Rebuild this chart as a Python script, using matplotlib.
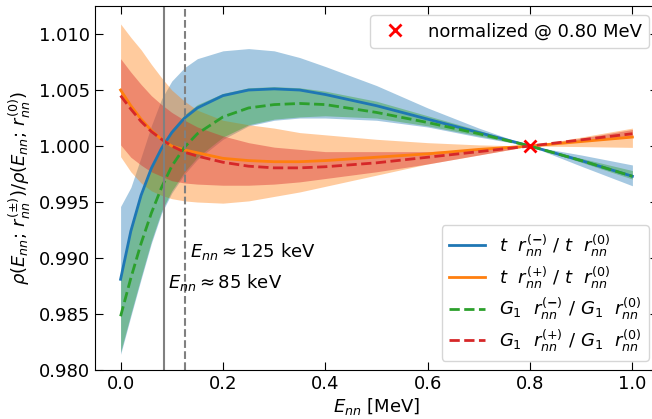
import matplotlib
matplotlib.use("Agg")
import matplotlib.pyplot as plt

# energies (MeV)
E = [0, 0.02, 0.04, 0.06, 0.08, 0.1, 0.125, 0.15, 0.2, 0.25, 0.3, 0.35, 0.4, 0.5, 0.6, 0.7, 0.8, 0.9, 1.0]

# t-matrix, r(-) / r(0)
t_minus = [0.9881, 0.9924, 0.9956, 0.9980, 0.9998, 1.0012, 1.0025, 1.0034, 1.0045, 1.0050, 1.0051, 1.0050,
           1.0046, 1.0036, 1.0024, 1.0012, 1.0000, 0.9987, 0.9973]
t_minus_a = [0.9946, 0.9963, 0.9990, 1.0018, 1.0042, 1.0058, 1.0070, 1.0078, 1.0085, 1.0087, 1.0085, 1.0079,
             1.0071, 1.0054, 1.0034, 1.0016, 1.0000, 0.9982, 0.99645]
t_minus_b = [0.9814, 0.9848, 0.9881, 0.9913, 0.9940, 0.9958, 0.9975, 0.9988, 1.0006, 1.0018, 1.0023, 1.0025,
             1.0025, 1.0023, 1.0017, 1.0008, 1.0000, 0.9992, 0.99831]

# t-matrix, r(+) / r(0)
t_plus = [1.0050, 1.0036, 1.0024, 1.0014, 1.0006, 1.0000, 0.99965, 0.9994, 0.9989, 0.9987, 0.9986, 0.9986,
          0.9987, 0.9990, 0.9993, 0.9997, 1.0000, 1.0004, 1.0008]
t_plus_a = [1.0109, 1.0097, 1.0086, 1.0073, 1.0061, 1.0050, 1.0040, 1.0032, 1.0023, 1.0019, 1.0016, 1.0012,
            1.0010, 1.0006, 1.0003, 1.0001, 1.0000, 0.99995, 0.99988]
t_plus_b = [0.99905, 0.9977, 0.9967, 0.9960, 0.9956, 0.9953, 0.9951, 0.9950, 0.9949, 0.9951, 0.9955, 0.9959,
            0.9964, 0.9974, 0.9984, 0.9992, 1.0000, 1.0008, 1.0016]

# G1, r(-) / r(0)
g_minus = [0.9848, 0.9882, 0.9913, 0.9940, 0.9963, 0.9982, 0.9999, 1.0011, 1.0026, 1.0034, 1.0037, 1.0038,
           1.0037, 1.0030, 1.0021, 1.0011, 1.0000, 0.9987, 0.9973]
g_minus_a = [0.9885, 0.9927, 0.9959, 0.9983, 1.0001, 1.0015, 1.0028, 1.0037, 1.0047, 1.0052, 1.0053, 1.0052,
             1.0049, 1.0040, 1.0027, 1.0014, 1.0000, 0.99855, 0.99705]
g_minus_b = [0.9816, 0.9850, 0.9883, 0.9915, 0.9942, 0.9960, 0.9977, 0.9990, 1.0008, 1.0019, 1.0024, 1.0026,
             1.0027, 1.0025, 1.0018, 1.0009, 1.0000, 0.9989, 0.99781]

# G1, r(+) / r(0)
g_plus = [1.0045, 1.0033, 1.0022, 1.0013, 1.0006, 1.0000, 0.99945, 0.9991, 0.99855, 0.9982, 0.99805, 0.99805,
          0.99815, 0.9985, 0.9990, 0.9995, 1.0000, 1.00055, 1.0011]
g_plus_a = [1.0078, 1.0066, 1.0055, 1.0045, 1.0037, 1.0030, 1.0023, 1.0017, 1.0009, 1.0003, 0.9999, 0.9997,
            0.9995, 0.9995, 0.9995, 0.9997, 1.0000, 1.0004, 1.00077]
g_plus_b = [1.0001, 0.9990, 0.9983, 0.9977, 0.9973, 0.9969, 0.9967, 0.9966, 0.9965, 0.9965, 0.9966, 0.9968,
            0.9971, 0.9977, 0.9984, 0.9992, 1.0000, 1.0007, 1.00148]

E_norm = 0.80
E_cross = [0.085, 0.125]

plt.rcParams['font.size'] = 13
plt.rcParams['mathtext.fontset'] = 'dejavusans'

fig = plt.figure(figsize=(6.52, 4.19), dpi=100)
ax = fig.add_axes([0.1457, 0.1169, 0.8635, 0.8687])

ax.fill_between(E, t_minus_a, t_minus_b, color='tab:blue', alpha=0.4, lw=0)
ax.fill_between(E, t_plus_a, t_plus_b, color='tab:orange', alpha=0.4, lw=0)
ax.fill_between(E, g_minus_a, g_minus_b, color='tab:green', alpha=0.4, lw=0)
ax.fill_between(E, g_plus_a, g_plus_b, color='tab:red', alpha=0.4, lw=0)

l1, = ax.plot(E, t_minus, color='tab:blue', lw=2,
              label=r'$t\ \ r_{nn}^{(\mathbf{-})}\ /\ t\ \ r_{nn}^{(0)}$')
l2, = ax.plot(E, t_plus, color='tab:orange', lw=2,
              label=r'$t\ \ r_{nn}^{(+)}\ /\ t\ \ r_{nn}^{(0)}$')
l3, = ax.plot(E, g_minus, color='tab:green', lw=2, ls='--',
              label=r'$G_1\ \ r_{nn}^{(\mathbf{-})}\ /\ G_1\ \ r_{nn}^{(0)}$')
l4, = ax.plot(E, g_plus, color='tab:red', lw=2, ls='--',
              label=r'$G_1\ \ r_{nn}^{(+)}\ /\ G_1\ \ r_{nn}^{(0)}$')

ax.axvline(E_cross[0], color='gray', lw=1.5)
ax.axvline(E_cross[1], color='gray', lw=1.5, ls='--')
ax.text(0.135, 0.9906, r'$E_{nn} \approx 125$ keV', va='center')
ax.text(0.092, 0.98785, r'$E_{nn} \approx 85$ keV', va='center')

mk, = ax.plot([E_norm], [1.0], 'x', color='red', ms=8, mew=2, ls='none',
              label='normalized @ %.2f MeV' % E_norm)

leg1 = ax.legend(handles=[mk], loc='upper right')
ax.add_artist(leg1)
ax.legend(handles=[l1, l2, l3, l4], loc='lower right', labelspacing=0.3)

ax.set_xlim(-0.05, 1.05)
ax.set_ylim(0.98, 1.0125)
ax.set_xticks([0.0, 0.2, 0.4, 0.6, 0.8, 1.0])
ax.set_yticks([0.980, 0.985, 0.990, 0.995, 1.000, 1.005, 1.010])
ax.set_yticklabels(['%.3f' % v for v in [0.980, 0.985, 0.990, 0.995, 1.000, 1.005, 1.010]])
ax.tick_params(direction='in', top=True, right=True, length=6)
ax.set_xlabel(r'$E_{nn}$ [MeV]', labelpad=2)
ax.set_ylabel(r'$\rho(E_{nn};\, r_{nn}^{(\pm)})/\rho(E_{nn};\, r_{nn}^{(0)})$')

fig.savefig('out.png', dpi=100)
